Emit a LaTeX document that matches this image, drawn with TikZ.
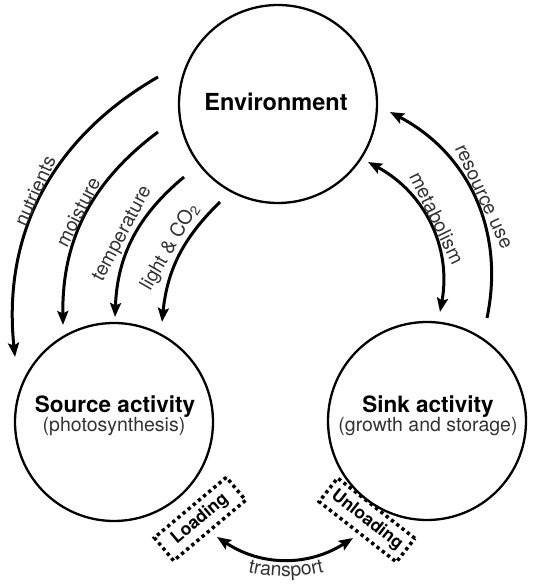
\documentclass[tikz,border=0pt]{standalone}
\usepackage{fontspec}
\setmainfont{TeX Gyre Heros}
\usetikzlibrary{arrows.meta,decorations.text}
\begin{document}
\begin{tikzpicture}[x=1pt,y=1pt,
  circ/.style={circle, draw, line width=2.3pt, minimum size=198pt, inner sep=0pt},
  arr/.style={line width=3pt, -{Stealth[length=14pt,width=11pt,inset=2.5pt]}},
  darr/.style={line width=3pt, {Stealth[length=14pt,width=11pt,inset=2.5pt]}-{Stealth[length=14pt,width=11pt,inset=2.5pt]}},
  lbl/.style={font=\fontsize{19.5}{21}\selectfont, text=black!80, inner sep=0pt},
  ttl/.style={font=\bfseries\fontsize{22.5}{24}\selectfont, inner sep=0pt},
  subt/.style={font=\fontsize{19.5}{21}\selectfont, text=black!80, inner sep=0pt},
  dbox/.style={draw, line width=3.5pt, dash pattern=on 3.3pt off 3.4pt, line cap=butt, minimum height=30pt, inner sep=0pt, font=\bfseries\fontsize{17.5}{19}\selectfont}
]
\useasboundingbox (0,0) rectangle (537,584);
% circles
\node[circ] (env) at (278,480) {};
\node[circ] (src) at (114,162) {};
\node[circ] (snk) at (427,163) {};
\node[ttl, font=\bfseries\fontsize{23.5}{25}\selectfont] (envt) at (276,482) {Environment};
\node[ttl] (srct) at (115,177) {Source activity};
\node[subt] (srcs) at (114,157) {(photosynthesis)};
\node[ttl] (snkt) at (428,177) {Sink activity};
\node[subt] (snks) at (428,157) {(growth and storage)};
% arrow ends
\coordinate (nuA) at (158,507); \coordinate (nuB) at (15,227);
\coordinate (moA) at (158,452); \coordinate (moB) at (63,259);
\coordinate (teA) at (184,407); \coordinate (teB) at (115,267);
\coordinate (liA) at (220,382); \coordinate (liB) at (162,262);
\coordinate (reA) at (487,266); \coordinate (reB) at (390,472);
\coordinate (meA) at (368,422); \coordinate (meB) at (440,272);
\coordinate (trA) at (217,47);  \coordinate (trB) at (353,46);
\draw[arr] (nuA) to[bend right=33] (nuB);
\draw[arr] (moA) to[bend right=27] (moB);
\draw[arr] (teA) to[bend right=24] (teB);
\draw[arr] (liA) to[bend right=20] (liB);
\draw[arr] (reA) to[bend right=37] (reB);
\draw[darr] (meA) to[bend left=36] (meB);
\draw[darr] (trA) to[bend right=33] (trB);
% labels
\node[lbl, rotate=66] (nul) at (35,393) {nutrients};
\node[lbl, rotate=63] (mol) at (78,372) {moisture};
\node[lbl, rotate=62] (tel) at (123,350) {temperature};
\node[lbl, rotate=60] (lil) at (170,337) {light \& CO\textsubscript{2}};
\node[lbl, rotate=-65] (rel) at (483,387) {resource use};
\node[lbl, rotate=-64] (mel) at (437,366) {metabolism};
\coordinate (tlA) at (232,16); \coordinate (tlB) at (340,16);
\path[decorate, decoration={text along path, text align=center,
  text={|\fontsize{19.5}{21}\selectfont\color{black!80}|transport}}]
  (tlA) to[bend right=16] (tlB);
% boxes
\node[dbox, rotate=40, minimum width=94pt] (load) at (200,65) {Loading};
\node[dbox, rotate=-38, minimum width=98pt] (unload) at (367,64) {Unloading};
\end{tikzpicture}
\end{document}
